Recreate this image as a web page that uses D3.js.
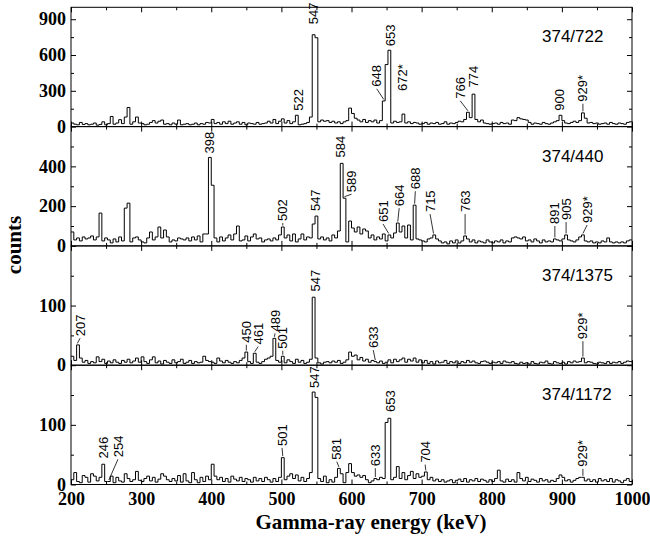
<!DOCTYPE html>
<html lang="en">
<head>
<meta charset="utf-8">
<title>Gamma-ray coincidence spectra</title>
<script src="https://cdn.jsdelivr.net/npm/d3@7/dist/d3.min.js"></script>
<style>
  body { margin: 0; background: #fff; }
  .peak { font-family: "Liberation Sans", Arial, sans-serif; font-size: 13px; fill: #000; }
  .gate { font-family: "Liberation Sans", Arial, sans-serif; font-size: 17px; fill: #000; }
</style>
</head>
<body>
<script>
// spectra: 4 keV bins starting at 200 keV, one row per 100 keV
const binStart = 200;
const binWidth = 4;
const xTicks = [200, 300, 400, 500, 600, 700, 800, 900, 1000];

const gates = ["374/722", "374/440", "374/1375", "374/1172"];
const yMax = [1000, 600, 200, 200];
const yMajor = [[0, 300, 600, 900], [0, 200, 400], [0, 100], [0, 100]];
const yMinor = [[150, 450, 750], [100, 300, 500], [50, 150], [50, 150]];

const counts722 = [
  30,20,15,35,18,25,15,20,30,12,18,40,15,25,85,20,30,58,25,80,160,20,40,80,30,
  25,15,20,35,50,30,45,55,20,25,15,30,20,55,15,20,25,15,20,30,15,25,20,35,30,
  60,25,35,20,40,25,45,20,30,40,20,35,15,30,25,20,35,20,25,30,45,30,60,25,45,
  65,30,50,25,40,95,15,20,25,35,80,770,745,40,55,45,50,35,45,30,40,25,40,50,155,
  110,70,55,40,60,35,50,40,55,30,50,215,520,640,30,45,35,40,105,30,40,25,35,30,20,
  25,35,20,30,25,35,20,25,40,20,30,25,35,45,40,60,120,75,272,60,40,55,30,25,20,
  25,30,20,35,25,30,20,55,50,75,65,60,55,35,20,30,25,20,35,25,20,30,40,50,95,
  50,30,25,35,45,35,50,115,70,30,35,25,30,20,25,30,20,35,25,20,30,25,20,35,40
];
const counts440 = [
  70,30,40,25,45,35,40,50,30,45,165,25,40,30,15,35,20,45,25,190,215,20,40,45,30,
  20,15,40,70,30,45,95,40,80,45,20,30,25,40,35,30,40,25,45,30,50,20,60,60,445,
  305,40,20,45,25,40,55,30,60,100,25,30,50,25,45,60,35,40,20,30,35,25,40,30,55,
  95,40,55,25,60,20,35,60,30,45,40,110,150,35,45,30,40,25,55,40,75,415,240,20,125,
  90,70,95,60,85,75,40,55,30,45,35,60,25,55,40,65,115,70,100,40,105,30,205,35,30,
  25,20,35,40,55,35,25,15,20,10,25,15,30,15,25,50,35,20,30,15,25,20,15,30,20,
  15,25,20,30,15,25,20,40,45,40,35,45,25,30,20,35,25,15,30,20,25,20,35,30,25,
  35,55,30,25,20,30,45,55,25,20,25,15,20,15,25,20,40,20,15,20,15,20,15,25,30
];
const counts1375 = [
  15,8,34,12,5,8,3,6,4,14,6,10,3,7,4,9,5,3,8,5,10,4,7,12,5,
  14,6,3,9,14,4,7,2,8,5,3,9,4,6,10,3,5,8,3,6,4,5,15,8,6,
  5,3,12,7,4,8,5,3,6,4,8,12,22,6,3,20,5,3,6,10,12,15,45,8,5,
  15,4,9,6,3,10,5,8,3,5,10,114,12,4,2,5,6,4,7,5,8,3,5,9,22,
  15,17,9,13,7,10,5,8,6,4,7,3,5,9,4,10,6,9,12,5,10,7,12,5,9,
  4,8,3,6,2,7,4,5,8,3,6,4,7,3,6,4,8,5,7,4,3,6,7,5,3,
  5,4,6,3,7,5,4,6,3,2,5,3,4,2,6,3,2,5,4,7,3,2,6,4,3,
  5,2,6,4,7,5,6,12,4,6,5,3,2,5,4,3,6,3,5,4,6,3,5,7,6
];
const counts1172 = [
  8,20,5,3,15,12,4,18,14,6,12,34,5,5,14,3,12,6,4,18,10,5,8,22,7,
  5,10,14,6,12,4,9,18,14,8,5,10,6,15,4,18,6,3,20,8,3,12,5,14,8,
  34,14,8,12,5,10,4,14,9,6,12,5,10,8,4,12,6,10,5,12,8,4,10,5,12,
  45,8,14,18,10,16,6,12,5,10,20,155,146,10,5,14,3,8,4,12,27,18,3,20,35,
  20,14,16,12,15,8,3,6,10,8,12,10,104,111,8,12,30,10,20,8,15,22,10,18,12,
  14,21,8,12,6,9,5,8,4,6,8,3,7,9,5,10,4,8,6,10,5,9,7,4,8,
  5,10,24,6,4,9,5,8,4,20,10,6,12,5,9,7,4,10,6,8,4,7,5,10,16,
  12,6,8,4,7,10,12,12,6,9,5,8,4,10,6,8,5,10,4,8,6,3,7,10,5
];

// peak labels: [text, peak energy, label energy, label counts, leader line]
const peaks722 = [
  ["522", 522, 524, 125, true], ["547", 546, 546, 850, false],
  ["648", 646, 636, 325, true], ["653", 654, 655, 665, false],
  ["672*", 674, 672, 290, false], ["766", 766, 755, 225, true],
  ["774", 774, 774, 320, false], ["900", 898, 897, 125, true],
  ["929*", 930, 930, 200, true]
];
const peaks440 = [
  ["398", 398, 398, 460, false], ["502", 502, 502, 120, true],
  ["547", 550, 548, 170, false], ["584", 585, 584, 440, false],
  ["589", 590, 600, 265, true], ["651", 653, 645, 115, true],
  ["664", 666, 668, 195, true], ["688", 690, 691, 280, true],
  ["715", 717, 712, 165, true], ["763", 762, 762, 165, true],
  ["891", 890, 890, 105, true], ["905", 906, 906, 125, true],
  ["929*", 930, 936, 110, true]
];
const peaks1375 = [
  ["207", 209, 213, 47, true], ["450", 450, 450, 36, true],
  ["461", 462, 467, 33, true], ["489", 490, 491, 55, true],
  ["501", 502, 502, 26, true], ["547", 546, 548, 122, false],
  ["633", 634, 631, 27, true], ["929*", 930, 930, 42, true]
];
const peaks1172 = [
  ["246", 246, 246, 42, false], ["254", 254, 267, 44, true],
  ["501", 502, 501, 63, true], ["547", 546, 547, 160, false],
  ["581", 582, 579, 40, true], ["633", 634, 634, 29, true],
  ["653", 654, 655, 120, false], ["704", 706, 705, 35, true],
  ["929*", 930, 930, 28, true]
];

const spectra = [counts722, counts440, counts1375, counts1172];
const peakSets = [peaks722, peaks440, peaks1375, peaks1172];

const serif = '"Liberation Serif", "DejaVu Serif", "Times New Roman", serif';
const width = 650, height = 537;
const left = 71, right = 632, top0 = 7.3, panelH = 119.3;

const svg = d3.select("body").append("svg")
  .attr("width", width)
  .attr("height", height);

const x = d3.scaleLinear().domain([200, 1000]).range([left, right]);

const line = d3.line()
  .x(d => x(d[0]))
  .y(d => d[1])
  .curve(d3.curveStepAfter);

spectra.forEach(function(counts, i) {
  const top = top0 + i * panelH, bottom = top + panelH;
  const y = d3.scaleLinear().domain([0, yMax[i]]).range([bottom, top]);
  const g = svg.append("g");

  // spectrum as a step histogram
  const pts = counts.map((c, k) => [binStart + k * binWidth, y(c)]);
  pts.push([1000, y(counts[counts.length - 1])]);
  g.append("path")
    .attr("d", line(pts))
    .attr("fill", "none")
    .attr("stroke", "#000")
    .attr("stroke-width", 1);

  // frame
  g.append("rect")
    .attr("x", left).attr("y", top)
    .attr("width", right - left).attr("height", panelH)
    .attr("fill", "none").attr("stroke", "#000").attr("stroke-width", 1);

  // y axes, ticks pointing inwards
  g.append("g").attr("class", "lab").attr("transform", `translate(${left},0)`)
    .call(d3.axisLeft(y).tickValues(yMajor[i]).tickSize(-5).tickPadding(5).tickFormat(d3.format("d")));
  g.append("g").attr("transform", `translate(${left},0)`)
    .call(d3.axisLeft(y).tickValues(yMinor[i]).tickSize(-3).tickFormat(""));
  g.append("g").attr("transform", `translate(${right},0)`)
    .call(d3.axisRight(y).tickValues(yMajor[i]).tickSize(-5).tickFormat(""));
  g.append("g").attr("transform", `translate(${right},0)`)
    .call(d3.axisRight(y).tickValues(yMinor[i]).tickSize(-3).tickFormat(""));

  // x ticks on top and bottom edges
  const xMinor = d3.range(250, 1000, 100);
  g.append("g").attr("transform", `translate(0,${top})`)
    .call(d3.axisTop(x).tickValues(xTicks).tickSize(-5).tickFormat(""));
  g.append("g").attr("transform", `translate(0,${top})`)
    .call(d3.axisTop(x).tickValues(xMinor).tickSize(-3).tickFormat(""));
  g.append("g").attr("class", "lab").attr("transform", `translate(0,${bottom})`)
    .call(d3.axisBottom(x).tickValues(xTicks).tickSize(-5).tickPadding(8)
      .tickFormat(i === 3 ? d3.format("d") : ""));
  g.append("g").attr("transform", `translate(0,${bottom})`)
    .call(d3.axisBottom(x).tickValues(xMinor).tickSize(-3).tickFormat(""));

  g.selectAll(".domain").remove();
  g.selectAll(".tick line").attr("stroke", "#000");
  g.selectAll(".lab")
    .attr("font-family", serif)
    .attr("font-size", 18)
    .attr("font-weight", "bold");
  g.selectAll(".lab text").attr("fill", "#000");

  // gate label
  g.append("text").attr("class", "gate")
    .attr("x", 542).attr("y", top + 35)
    .text(gates[i]);

  // peak labels with leader lines
  peakSets[i].forEach(function(p) {
    const bin = Math.floor((p[1] - binStart) / binWidth);
    const peakY = y(counts[bin]) - 1.5;
    const lx = x(p[2]), ly = y(p[3]);
    if (p[4] && peakY - ly > 3) {
      g.append("line")
        .attr("x1", lx).attr("y1", ly + 1)
        .attr("x2", x(p[1])).attr("y2", peakY)
        .attr("stroke", "#000").attr("stroke-width", 0.8);
    }
    g.append("text").attr("class", "peak")
      .attr("transform", `translate(${lx},${ly - 1}) rotate(-90)`)
      .attr("dy", "0.35em")
      .text(p[0]);
  });
});

// axis titles
svg.append("text")
  .attr("transform", "translate(21,245) rotate(-90)")
  .attr("text-anchor", "middle")
  .attr("font-family", serif).attr("font-weight", "bold").attr("font-size", 21)
  .text("counts");

svg.append("text")
  .attr("x", 371).attr("y", 529)
  .attr("text-anchor", "middle")
  .attr("font-family", serif).attr("font-weight", "bold").attr("font-size", 21)
  .text("Gamma-ray energy (keV)");
</script>
</body>
</html>
